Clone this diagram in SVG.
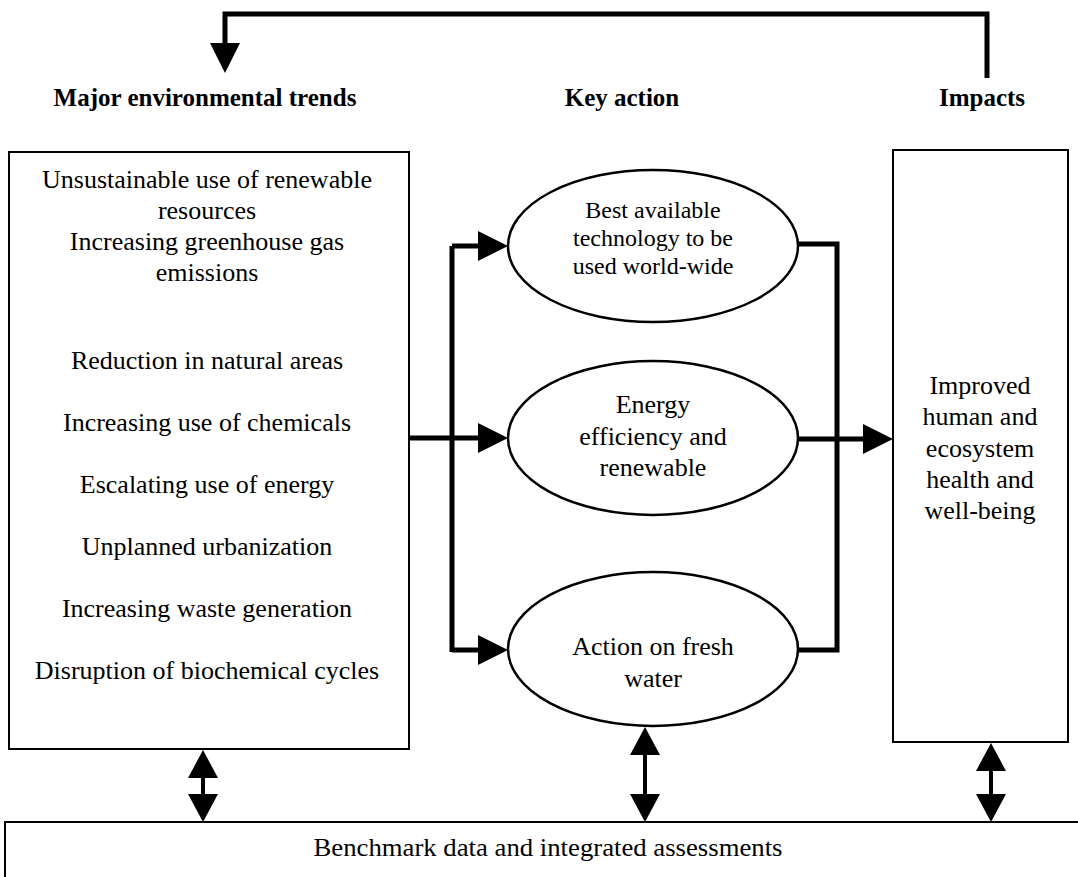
<svg xmlns="http://www.w3.org/2000/svg" width="1078" height="877" viewBox="0 0 1078 877">
<style>
  text { font-family: "Liberation Serif", "Times New Roman", serif; fill: #000; text-anchor: middle; }
  .hdr { font-weight: bold; font-size: 25px; }
  .t { font-size: 26px; }
  .t24 { font-size: 24px; }
  .box { fill: #fff; stroke: #000; stroke-width: 2; }
  .ell { fill: #fff; stroke: #000; stroke-width: 2.5; }
  .con { fill: none; stroke: #000; stroke-width: 5; stroke-linejoin: miter; }
  .dbl { fill: none; stroke: #000; stroke-width: 4; }
</style>
<defs>
  <marker id="ah" markerUnits="userSpaceOnUse" markerWidth="30" markerHeight="30" refX="20" refY="15" orient="auto-start-reverse" viewBox="0 0 30 30">
    <path d="M0,0 L30,15 L0,30 z" fill="#000"/>
  </marker>
  <marker id="ah2" markerUnits="userSpaceOnUse" markerWidth="28" markerHeight="30" refX="18" refY="15" orient="auto-start-reverse" viewBox="0 0 28 30">
    <path d="M0,0 L28,15 L0,30 z" fill="#000"/>
  </marker>
</defs>

<g id="headers">
  <text class="hdr" x="205" y="106">Major environmental trends</text>
  <text class="hdr" x="622" y="106">Key action</text>
  <text class="hdr" x="982" y="106">Impacts</text>
</g>

<g id="trends">
  <rect class="box" x="9" y="152" width="400" height="597"/>
  <text class="t" x="207" y="188">Unsustainable use of renewable</text>
  <text class="t" x="207" y="219">resources</text>
  <text class="t" x="207" y="250">Increasing greenhouse gas</text>
  <text class="t" x="207" y="281">emissions</text>
  <text class="t" x="207" y="369">Reduction in natural areas</text>
  <text class="t" x="207" y="431">Increasing use of chemicals</text>
  <text class="t" x="207" y="493">Escalating use of energy</text>
  <text class="t" x="207" y="555">Unplanned urbanization</text>
  <text class="t" x="207" y="617">Increasing waste generation</text>
  <text class="t" x="207" y="679">Disruption of biochemical cycles</text>
</g>

<g id="action-technology">
  <ellipse class="ell" cx="653" cy="246" rx="145" ry="76"/>
  <text class="t24" x="653" y="218">Best available</text>
  <text class="t24" x="653" y="246">technology to be</text>
  <text class="t24" x="653" y="274">used world-wide</text>
</g>

<g id="action-energy">
  <ellipse class="ell" cx="653" cy="438" rx="145" ry="77"/>
  <text class="t" x="653" y="413">Energy</text>
  <text class="t" x="653" y="445">efficiency and</text>
  <text class="t" x="653" y="476">renewable</text>
</g>

<g id="action-water">
  <ellipse class="ell" cx="653" cy="649" rx="145" ry="77"/>
  <text class="t" x="653" y="655">Action on fresh</text>
  <text class="t" x="653" y="687">water</text>
</g>

<g id="impacts">
  <rect class="box" x="893" y="150" width="175" height="592"/>
  <text class="t" x="980" y="394">Improved</text>
  <text class="t" x="980" y="425">human and</text>
  <text class="t" x="980" y="457">ecosystem</text>
  <text class="t" x="980" y="488">health and</text>
  <text class="t" x="980" y="519">well-being</text>
</g>

<g id="benchmark">
  <rect class="box" x="5" y="822" width="1090" height="80"/>
  <text class="t" x="548" y="856" textLength="469" lengthAdjust="spacingAndGlyphs">Benchmark data and integrated assessments</text>
</g>

<g id="connectors">
  <path class="con" d="M987,78 V14 H225 V63" marker-end="url(#ah)"/>
  <path class="con" d="M410,438 H498" marker-end="url(#ah)"/>
  <path class="con" d="M452,652 V246"/>
  <path class="con" d="M452,246 H498" marker-end="url(#ah)"/>
  <path class="con" d="M452,650 H498" marker-end="url(#ah)"/>
  <path class="con" d="M797,244 H837 V650 H797"/>
  <path class="con" d="M797,439 H883" marker-end="url(#ah)"/>
  <path class="dbl" d="M203,760 V812" marker-start="url(#ah2)" marker-end="url(#ah2)"/>
  <path class="dbl" d="M645,737 V812" marker-start="url(#ah2)" marker-end="url(#ah2)"/>
  <path class="dbl" d="M991,753 V812" marker-start="url(#ah2)" marker-end="url(#ah2)"/>
</g>
</svg>
